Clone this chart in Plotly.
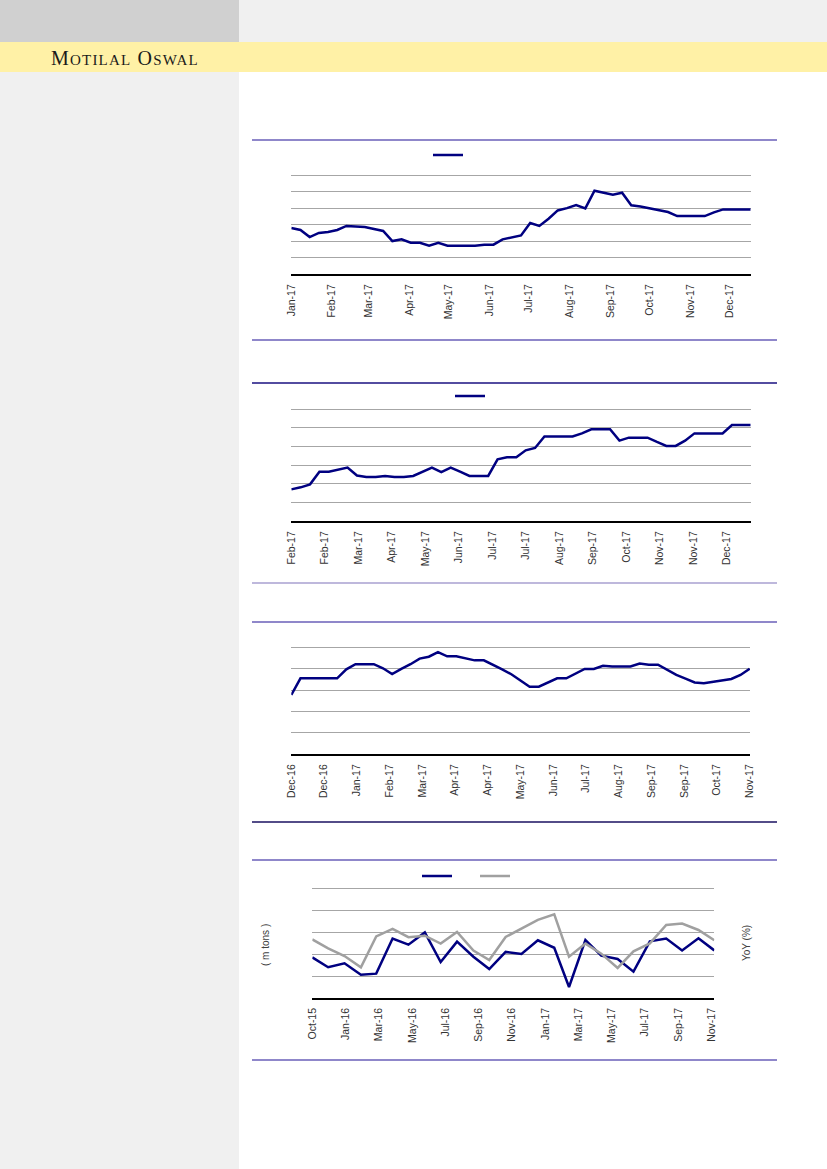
import plotly.graph_objects as go
import pandas as pd

W, H = 827, 1169

# ---------------- data ----------------
# Chart 1: weekly series, Jan-17 .. Dec-17
c1_dates = pd.date_range("2017-01-01", periods=51, freq="7D")
c1_values = [2.80, 2.68, 2.25, 2.50, 2.56, 2.68, 2.92, 2.88, 2.86, 2.74,
             2.62, 2.01, 2.11, 1.91, 1.91, 1.73, 1.91, 1.73, 1.73, 1.73,
             1.73, 1.79, 1.79, 2.11, 2.25, 2.35, 3.10, 2.92, 3.36, 3.86,
             4.00, 4.18, 3.98, 5.05, 4.93, 4.81, 4.93, 4.17, 4.10, 3.98,
             3.90, 3.76, 3.52, 3.52, 3.52, 3.52, 3.74, 3.92, 3.92, 3.92,
             3.92]

# Chart 2: weekly series, Feb-17 .. Jan-18
c2_dates = pd.date_range("2017-02-01", periods=50, freq="7D")
c2_values = [1.71, 1.82, 1.98, 2.66, 2.66, 2.79, 2.88, 2.45, 2.38, 2.38,
             2.43, 2.38, 2.38, 2.43, 2.64, 2.88, 2.64, 2.88, 2.66, 2.43,
             2.43, 2.43, 3.32, 3.43, 3.43, 3.80, 3.93, 4.54, 4.54, 4.54,
             4.54, 4.71, 4.93, 4.93, 4.93, 4.32, 4.48, 4.48, 4.48, 4.25,
             4.04, 4.04, 4.32, 4.71, 4.71, 4.71, 4.71, 5.16, 5.16, 5.16]

# Chart 3: weekly series, Dec-16 .. Nov-17
c3_dates = pd.date_range("2016-12-01", periods=51, freq="7D")
c3_values = [2.77, 3.55, 3.55, 3.55, 3.55, 3.55, 3.97, 4.21, 4.21, 4.21,
             4.02, 3.75, 3.99, 4.21, 4.47, 4.56, 4.77, 4.58, 4.58, 4.49,
             4.39, 4.39, 4.19, 3.97, 3.74, 3.46, 3.16, 3.16, 3.36, 3.55,
             3.55, 3.77, 3.99, 3.99, 4.14, 4.10, 4.10, 4.10, 4.24, 4.19,
             4.19, 3.94, 3.71, 3.54, 3.36, 3.32, 3.38, 3.47, 3.52, 3.71,
             4.00]

# Chart 4: monthly, Oct-15 .. Nov-17 (volume, m tons) and YoY (%)
c4_dates = pd.date_range("2015-10-01", periods=26, freq="MS") + pd.offsets.MonthEnd(0)
c4_volume = [1.85, 1.40, 1.58, 1.06, 1.11, 2.71, 2.43, 2.99, 1.64, 2.57,
             1.88, 1.32, 2.10, 2.01, 2.63, 2.29, 0.50, 2.64, 1.93, 1.78,
             1.20, 2.58, 2.71, 2.17, 2.72, 2.17]
c4_yoy = [2.67, 2.26, 1.91, 1.40, 2.81, 3.15, 2.77, 2.84, 2.48, 3.01,
          2.16, 1.73, 2.78, 3.18, 3.56, 3.81, 1.88, 2.48, 2.02, 1.37,
          2.13, 2.49, 3.33, 3.39, 3.10, 2.63]

# ---------------- styles ----------------
NAVY = "#000080"
GREY_LINE = "#a0a0a0"
GRID = "#a6a6a6"
TICKFONT = dict(family="Liberation Sans, Arial, sans-serif", size=10.5, color="#333333")
PAD = 0.2  # headroom (in grid units) so the top gridline is not clipped


def px_x(v):
    return v / W


def px_y(v):
    return 1 - v / H


fig = go.Figure()

fig.add_trace(go.Scatter(x=c1_dates, y=c1_values, mode="lines", name=" ",
                         line=dict(color=NAVY, width=2.5), xaxis="x", yaxis="y",
                         legend="legend", showlegend=True))
fig.add_trace(go.Scatter(x=c2_dates, y=c2_values, mode="lines", name=" ",
                         line=dict(color=NAVY, width=2.5), xaxis="x2", yaxis="y2",
                         legend="legend2", showlegend=True))
fig.add_trace(go.Scatter(x=c3_dates, y=c3_values, mode="lines", name=" ",
                         line=dict(color=NAVY, width=2.5), xaxis="x3", yaxis="y3",
                         showlegend=False))
fig.add_trace(go.Scatter(x=c4_dates, y=c4_volume, mode="lines", name=" ",
                         line=dict(color=NAVY, width=2.5), xaxis="x4", yaxis="y4",
                         legend="legend3", showlegend=True))
fig.add_trace(go.Scatter(x=c4_dates, y=c4_yoy, mode="lines", name=" ",
                         line=dict(color=GREY_LINE, width=2.5), xaxis="x4", yaxis="y5",
                         legend="legend3", showlegend=True))


def xaxis(dom, anchor, rng, tick0, dtick):
    return dict(domain=dom, anchor=anchor, type="date", range=rng, tick0=tick0,
                dtick=dtick, tickformat="%b-%y", tickangle=-90, tickfont=TICKFONT,
                showgrid=False, zeroline=False, showline=True, linecolor="black",
                linewidth=1.5, ticks="", ticklabelstandoff=4, fixedrange=True,
                automargin=False)


def ydomain(bottom_px, top_grid_px, top):
    span = (bottom_px - top_grid_px) * (top + PAD) / top
    return [px_y(bottom_px), px_y(bottom_px - span)]


def yaxis(bottom_px, top_grid_px, anchor, top, **kw):
    d = dict(domain=ydomain(bottom_px, top_grid_px, top), anchor=anchor,
             range=[0, top + PAD], dtick=1, tick0=0,
             showticklabels=False, showgrid=True, gridcolor=GRID, gridwidth=1,
             zeroline=False, showline=False, ticks="", fixedrange=True,
             automargin=False)
    d.update(kw)
    return d


DAY = 86400000
c1_dom_x = [px_x(291.3), px_x(750.7)]
c2_dom_x = [px_x(291.3), px_x(750.7)]
c3_dom_x = [px_x(291.3), px_x(750.0)]
c4_dom_x = [px_x(312.3), px_x(714.3)]

fig.update_layout(
    width=W, height=H,
    margin=dict(l=0, r=0, t=0, b=0, autoexpand=False),
    paper_bgcolor="white", plot_bgcolor="rgba(0,0,0,0)",
    xaxis=xaxis(c1_dom_x, "y", ["2017-01-01", "2017-12-17"], "2017-01-01", "M1"),
    yaxis=yaxis(274.3, 175.0, "x", 6),
    xaxis2=xaxis(c2_dom_x, "y2", ["2017-02-01", "2018-01-10"], "2017-02-01", 25 * DAY),
    yaxis2=yaxis(521.3, 409.3, "x2", 6),
    xaxis3=xaxis(c3_dom_x, "y3", ["2016-12-01", "2017-11-16 06:00"], "2016-12-01", 25 * DAY),
    yaxis3=yaxis(754.3, 647.3, "x3", 5),
    xaxis4=xaxis(c4_dom_x, "y4", ["2015-10-31", "2017-11-30"], "2015-10-31", 63 * DAY),
    yaxis4=yaxis(998.0, 888.3, "x4", 5),
    yaxis5=yaxis(998.0, 888.3, "x4", 5, overlaying="y4", side="right", showgrid=False),
    legend=dict(x=px_x(428), y=px_y(155), xanchor="left", yanchor="middle",
                orientation="h", bgcolor="rgba(0,0,0,0)", font=dict(size=10),
                itemwidth=30),
    legend2=dict(x=px_x(450), y=px_y(396), xanchor="left", yanchor="middle",
                 orientation="h", bgcolor="rgba(0,0,0,0)", font=dict(size=10),
                 itemwidth=30),
    legend3=dict(x=px_x(417), y=px_y(876), xanchor="left", yanchor="middle",
                 orientation="h", bgcolor="rgba(0,0,0,0)", font=dict(size=10),
                 itemwidth=30, entrywidth=13, entrywidthmode="pixels"),
)

# ---------------- page decoration ----------------
shapes = [
    dict(type="rect", xref="paper", yref="paper", x0=0, x1=px_x(239), y0=px_y(42), y1=1,
         fillcolor="#d0d0d0", line=dict(width=0), layer="below"),
    dict(type="rect", xref="paper", yref="paper", x0=px_x(239), x1=1, y0=px_y(42), y1=1,
         fillcolor="#f0f0f0", line=dict(width=0), layer="below"),
    dict(type="rect", xref="paper", yref="paper", x0=0, x1=1, y0=px_y(72), y1=px_y(42),
         fillcolor="#fff1a6", line=dict(width=0), layer="below"),
    dict(type="rect", xref="paper", yref="paper", x0=0, x1=px_x(239), y0=0, y1=px_y(72),
         fillcolor="#f0f0f0", line=dict(width=0), layer="below"),
]
rules = [(140, "#6a5fb8"), (340, "#6a5fb8"), (383, "#1a1080"), (583, "#a8a0d0"),
         (622, "#6a5fb8"), (822, "#1a1060"), (860, "#6a5fb8"), (1060, "#6a5fb8")]
for yy, col in rules:
    shapes.append(dict(type="line", xref="paper", yref="paper", x0=px_x(252), x1=px_x(777),
                       y0=px_y(yy), y1=px_y(yy), line=dict(color=col, width=1.4),
                       layer="below"))
fig.update_layout(shapes=shapes)

fig.add_annotation(
    x=px_x(49), y=px_y(58), xref="paper", yref="paper", xanchor="left", yanchor="middle",
    showarrow=False,
    text=("<span style='letter-spacing:1.2px'>M<span style='font-size:15px'>OTILAL</span> "
          "O<span style='font-size:15px'>SWAL</span></span>"),
    font=dict(family="Liberation Serif, Times New Roman, serif", size=20, color="#1a1a1a"),
)
fig.add_annotation(
    x=px_x(265), y=px_y(945), xref="paper", yref="paper", showarrow=False,
    xanchor="center", yanchor="middle",
    text="( m tons )", textangle=-90,
    font=dict(family="Liberation Sans, Arial, sans-serif", size=10, color="#404040"),
)
fig.add_annotation(
    x=px_x(746), y=px_y(943), xref="paper", yref="paper", showarrow=False,
    xanchor="center", yanchor="middle",
    text="YoY (%)", textangle=-90,
    font=dict(family="Liberation Sans, Arial, sans-serif", size=10, color="#404040"),
)

fig.write_html(
    "out.html",
    config={"displayModeBar": False},
    post_script="document.body.style.margin='0';document.body.style.overflow='hidden';",
)
